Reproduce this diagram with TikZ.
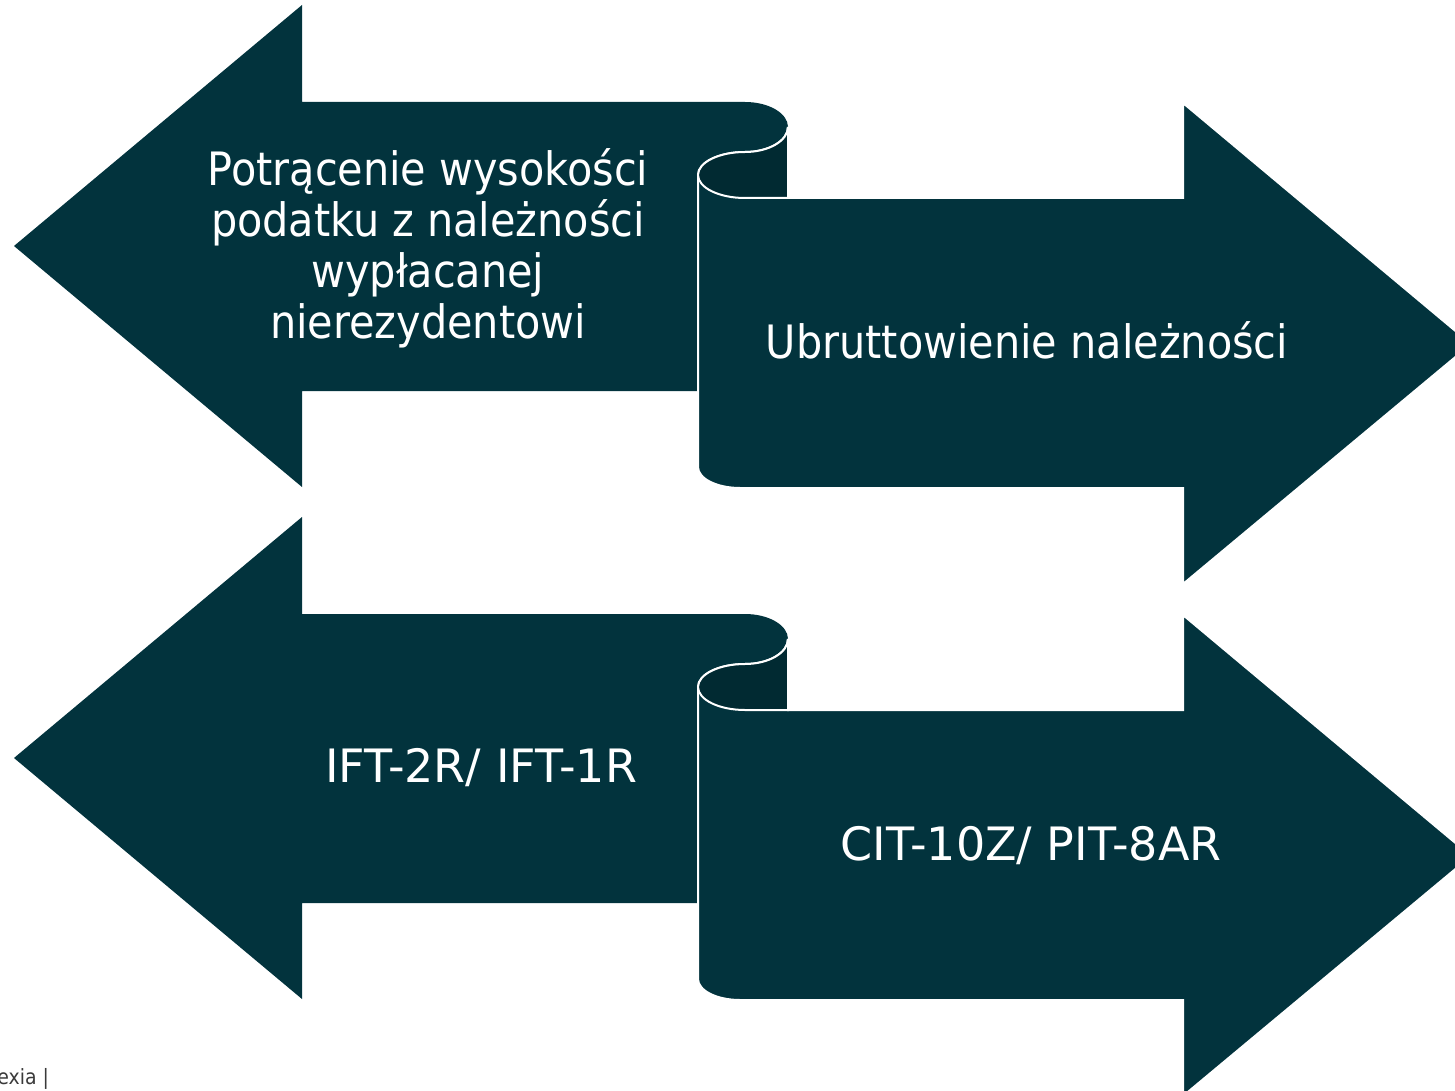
\documentclass[tikz,border=0pt]{standalone}
\usepackage{fontspec}
\setmainfont{DejaVu Sans Condensed}
\newfontfamily\widefont{DejaVu Sans}
\definecolor{arrowfill}{HTML}{02333D}
\definecolor{curlfill}{HTML}{012A32}
\definecolor{footgray}{HTML}{3A3A3A}
\newcommand{\scrollpair}{%
  % left arrow
  \path[arrowbody] (14,246) -- (302,5) -- (302,102) -- (745,102)
    .. controls (768.7,102) and (788,113.2) .. (788,127)
    .. controls (788,140.8) and (768.7,152) .. (745,152)
    -- (745,391) -- (302,391) -- (302,487) -- cycle;
  % right arrow
  \path[arrowbody,draw=white,line width=1pt] (788,127)
    .. controls (788,140.8) and (768.7,152) .. (745,152)
    .. controls (719,152) and (698,162.3) .. (698,175)
    -- (698,467) .. controls (698,478.6) and (716.8,488) .. (740,488)
    -- (1183,488) -- (1183,584) -- (1471,344) -- (1183,103)
    -- (1183,198) -- (788,198) -- cycle;
  % curl
  \path[curlpart] (788,127)
    .. controls (788,140.8) and (768.7,152) .. (745,152)
    .. controls (719,152) and (698,162.3) .. (698,175)
    .. controls (698,187.7) and (719,198) .. (745,198)
    -- (788,198) -- cycle;
}
\begin{document}
\begin{tikzpicture}[x=0.5pt,y=-0.5pt,
  arrowbody/.style={fill=arrowfill},
  curlpart/.style={fill=curlfill,draw=white,line width=1pt},
  label/.style={text=white,align=center,inner sep=0pt,
    font=\fontsize{23}{25.5}\selectfont},
  widelabel/.style={label,font=\widefont\fontsize{23}{25.5}\selectfont},
  foot/.style={text=footgray,inner sep=0pt,font=\fontsize{10.5}{11}\selectfont}]
\useasboundingbox (0,0) rectangle (1455,1091);
\clip (0,0) rectangle (1455,1091);
\scrollpair
\begin{scope}[shift={(0,512)}]
\scrollpair
\end{scope}
\node[label] (t1) at (428,248) {Potrącenie wysokości\\podatku z należności\\wypłacanej\\nierezydentowi};
\node[label,anchor=base] (t2) at (1027,358) {Ubruttowienie należności};
\node[widelabel,anchor=base] (t3) at (481,782) {IFT-2R/ IFT-1R};
\node[widelabel,anchor=base] (t4) at (1031,860) {CIT-10Z/ PIT-8AR};
\node[foot,anchor=base west] (ft) at (-3,1084) {exia |};
\end{tikzpicture}
\end{document}
